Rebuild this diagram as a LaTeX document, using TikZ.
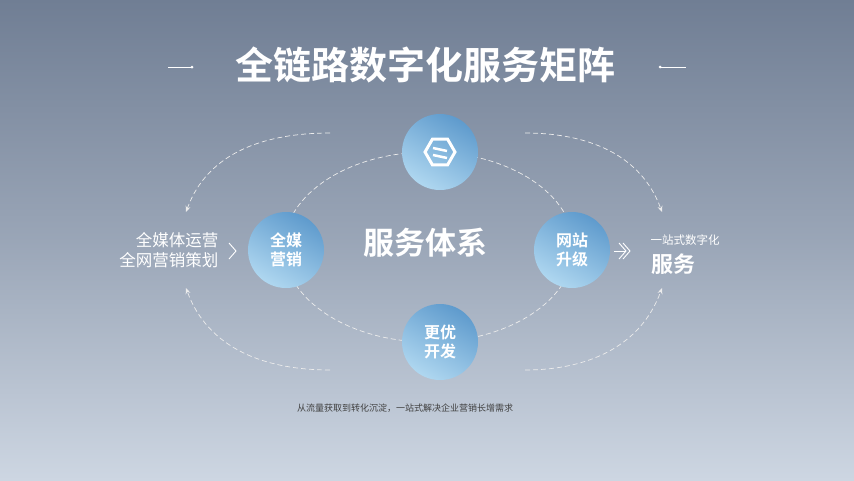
\documentclass[tikz,border=0pt]{standalone}
\usepackage{fontspec}
\newfontfamily\cjk{Noto Sans CJK SC}
\newfontfamily\cjkb{Noto Sans CJK SC Bold}
\usetikzlibrary{arrows.meta,shapes.geometric}
\definecolor{bgtop}{RGB}{112,126,148}
\definecolor{bgbot}{RGB}{205,214,226}
\definecolor{ca}{RGB}{175,215,240}
\definecolor{cb}{RGB}{95,155,205}
\begin{document}
\begin{tikzpicture}[x=1pt,y=-1pt,
  bub/.style={circle,minimum size=76pt,inner sep=0pt,shading=axis,top color=cb,bottom color=ca,shading angle=-30,text=white,font=\cjkb\fontsize{16}{19}\selectfont,align=center},
  dl/.style={draw=white!85!gray,dashed,dash pattern=on 5pt off 3pt,line width=0.7pt},
  ar/.style={dl,-{Stealth[length=6pt,width=5pt]}},
  chev/.style={draw=white,line width=0.9pt,line join=miter},
  wt/.style={text=white,align=center}]
\shade[top color=bgtop,bottom color=bgbot,middle color=bgtop!55!bgbot] (0,0) rectangle (854,480);
\useasboundingbox (0,0) rectangle (854,480);
\node[wt,font=\cjkb\fontsize{38}{44}\selectfont] (title) at (425,65) {全链路数字化服务矩阵};
\coordinate (t1) at (168,67); \coordinate (t2) at (192,67);
\coordinate (t3) at (660,67); \coordinate (t4) at (686,67);
\draw[white,line width=0.8pt] (t1)--(t2); \fill[white] (t2) circle (1.5pt);
\draw[white,line width=0.8pt] (t3)--(t4); \fill[white] (t3) circle (1.5pt);
% inner ellipse
\node[draw=none,ellipse,minimum width=290pt,minimum height=190pt] (ell) at (429,247) {};
\draw[dl] (ell.center) ellipse [x radius=145, y radius=95];
% outer arcs
\coordinate (a1) at (330,133); \coordinate (a2) at (186,212);
\coordinate (b1) at (330,370); \coordinate (b2) at (186,288);
\coordinate (c1) at (525,133); \coordinate (c2) at (662,212);
\coordinate (d1) at (525,370); \coordinate (d2) at (662,288);
\draw[ar] (a1) to[out=180,in=70] (a2);
\draw[ar] (b1) to[out=180,in=-70] (b2);
\draw[ar] (c1) to[out=0,in=110] (c2);
\draw[ar] (d1) to[out=0,in=-110] (d2);
% bubbles
\node[bub] (top) at (440,152) {};
\node[bub] (left) at (286,250) {全媒\\营销};
\node[bub] (right) at (572,250) {网站\\升级};
\node[bub] (bot) at (440,342) {更优\\开发};
% icon
\node[regular polygon,regular polygon sides=6,draw=white,line width=3pt,minimum size=30pt,inner sep=0pt] (ic) at (top) {};
\draw[white,line width=2.5pt] ([xshift=-7pt,yshift=-3pt]ic.center) -- ([xshift=7pt,yshift=-6pt]ic.center);
\draw[white,line width=2.5pt] ([xshift=-7pt,yshift=4pt]ic.center) -- ([xshift=7pt,yshift=1pt]ic.center);
\node[wt,font=\cjkb\fontsize{31}{36}\selectfont] (mid) at (425,243) {服务体系};
\node[wt,font=\cjk\fontsize{16.5}{20}\selectfont,align=right,anchor=east] (lt) at (222,250) {全媒体运营\\全网营销策划};
\coordinate (g1) at (233,251);
\draw[chev] ([shift={(-4,-8)}]g1) -- ([shift={(3,0)}]g1) -- ([shift={(-4,8)}]g1);
\coordinate (g2) at (626,251);
\draw[chev] ([shift={(-7,-8)}]g2) -- ([shift={(0,0)}]g2) -- ([shift={(-7,8)}]g2);
\draw[chev] ([shift={(-3,-8)}]g2) -- ([shift={(4,0)}]g2) -- ([shift={(-3,8)}]g2);
\draw[white,line width=0.9pt] ([shift={(-12,0)}]g2) -- ([shift={(0,0)}]g2);
\node[wt,font=\cjk\fontsize{11.5}{13}\selectfont] (rt1) at (685,240) {一站式数字化};
\node[wt,font=\cjkb\fontsize{22}{24}\selectfont] (rt2) at (673,264) {服务};
\node[text=black!75,font=\cjk\fontsize{9}{11}\selectfont] (foot) at (405,408) {从流量获取到转化沉淀，一站式解决企业营销长增需求};
\end{tikzpicture}
\end{document}
